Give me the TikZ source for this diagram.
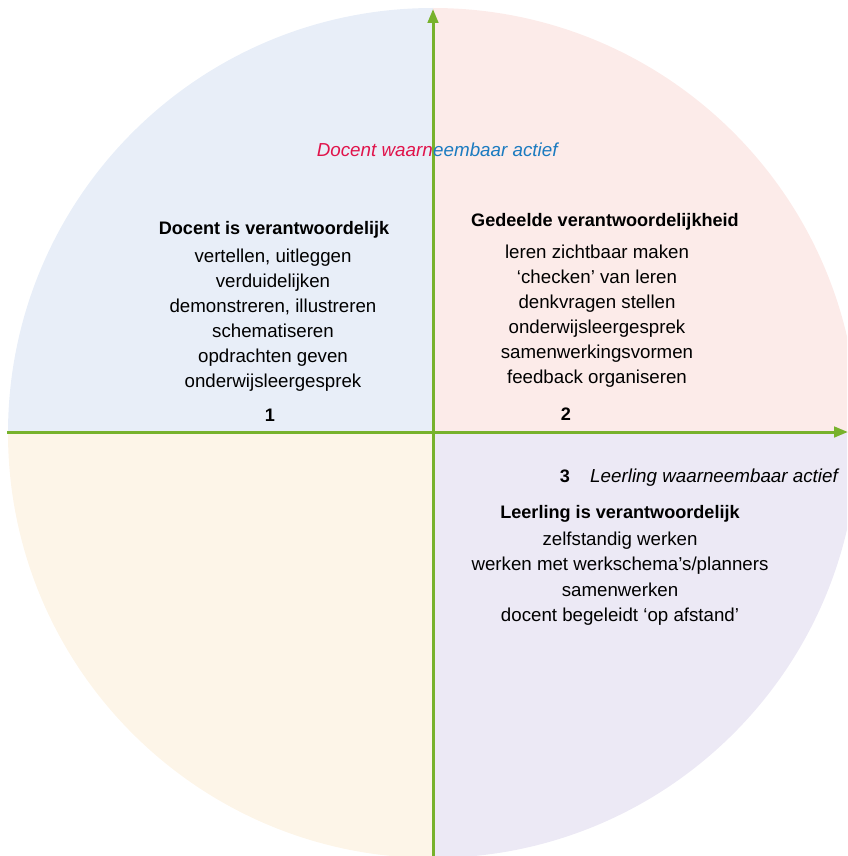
\documentclass[tikz,border=0pt]{standalone}
\usepackage{fontspec}
\setmainfont{Liberation Sans}
\usetikzlibrary{arrows.meta}
\definecolor{axisgreen}{HTML}{77B22C}
\definecolor{qblue}{HTML}{E8EEF8}
\definecolor{qpink}{HTML}{FCEBE9}
\definecolor{qcream}{HTML}{FDF5E8}
\definecolor{qlav}{HTML}{ECE9F5}
\definecolor{tred}{HTML}{E0134B}
\definecolor{tblue}{HTML}{1B7BC0}
\tikzset{
  axis/.style={draw=axisgreen, line width=3pt, -{Triangle[length=14pt,width=10.5pt]}},
  txt/.style={font=\fontsize{18.7}{25}\selectfont, inner sep=0pt, text=black, anchor=base},
  ttl/.style={font=\fontsize{18.1}{25}\selectfont\bfseries, inner sep=0pt},
  itl/.style={font=\fontsize{18.8}{25}\selectfont\itshape, inner sep=0pt},
}
\begin{document}
\begin{tikzpicture}[x=1pt,y=1pt]
\useasboundingbox (0,0) rectangle (847,-856);
\begin{scope}
\clip (0,0) rectangle (847,-856);
\coordinate (c) at (433,-433);
\fill[qblue] (c) -- ++(-425,0) arc[start angle=180,end angle=90,radius=425] -- cycle;
\fill[qpink] (c) -- ++(0,425) arc[start angle=90,end angle=0,radius=425] -- cycle;
\fill[qcream] (c) -- ++(0,-425) arc[start angle=270,end angle=180,radius=425] -- cycle;
\fill[qlav] (c) -- ++(425,0) arc[start angle=0,end angle=-90,radius=425] -- cycle;
\end{scope}
\coordinate (vb) at (433,-856);
\coordinate (vt) at (433,-9);
\coordinate (hl) at (7,-432);
\coordinate (hr) at (848,-432);
\draw[axis] (vb) -- (vt);
\draw[axis] (hl) -- (hr);

\node[itl, anchor=base east] (dw1) at (433,-157) {\color{tred}Docent waarn};
\node[itl, anchor=base west] (dw2) at (dw1.base east) {\color{tblue}eembaar actief};

\node[ttl, anchor=base] (t1) at (274,-234) {Docent is verantwoordelijk};
\foreach \t [count=\i] in {{vertellen, uitleggen},verduidelijken,{demonstreren, illustreren},schematiseren,opdrachten geven,onderwijsleergesprek}
  \node[txt] (la\i) at (273,-262-25*\i+25) {\t};
\node[ttl, anchor=base] (n1) at (270,-421) {1};

\node[ttl, anchor=base] (t2) at (605,-226) {Gedeelde verantwoordelijkheid};
\foreach \t [count=\i] in {leren zichtbaar maken,`checken' van leren,denkvragen stellen,onderwijsleergesprek,samenwerkingsvormen,feedback organiseren}
  \node[txt] (lb\i) at (597,-258-25*\i+25) {\t};
\node[ttl, anchor=base] (n2) at (566,-420) {2};

\node[ttl, anchor=base] (n3) at (565,-482) {3};
\node[itl, anchor=base west] (lw) at (590,-482) {Leerling waarneembaar actief};

\node[ttl, anchor=base] (t3) at (620,-518) {Leerling is verantwoordelijk};
\foreach \t [count=\i] in {zelfstandig werken,werken met werkschema's/planners,samenwerken,docent begeleidt `op afstand'}
  \node[txt] (lc\i) at (620,-545-25.5*\i+25.5) {\t};
\end{tikzpicture}
\end{document}
